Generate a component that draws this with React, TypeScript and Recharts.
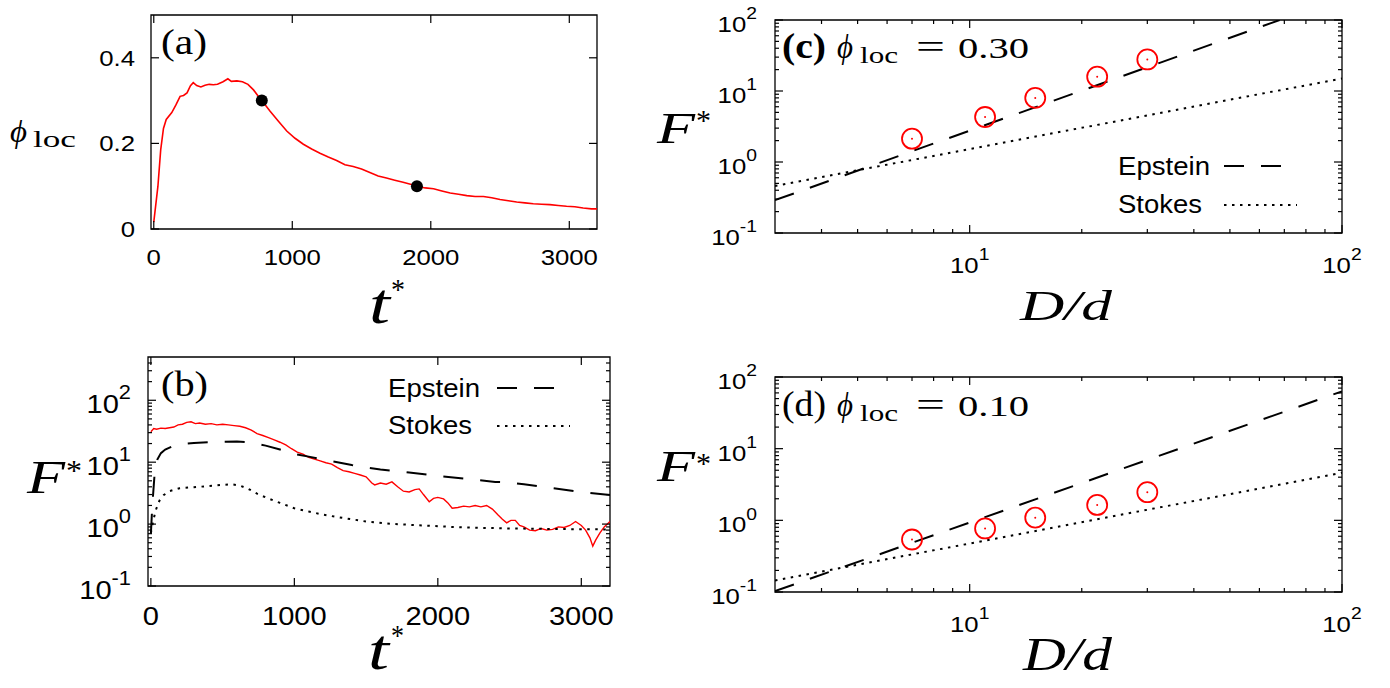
import React from 'react'
import { ComposedChart, Line, Scatter, XAxis, YAxis, ReferenceArea } from 'recharts'

const SANS = "'Liberation Sans', Arial, Helvetica, sans-serif"
const SERIF = "'Liberation Serif', 'DejaVu Serif', 'Times New Roman', serif"
const RED = '#ff0000'
const INK = '#000'

// (a) local packing fraction vs time
const tPhi = [0, 30, 50, 70, 90, 130, 160, 190, 215, 240, 265, 285, 310, 340, 370, 400, 430, 460, 500, 535, 560, 600, 640, 680, 720, 760, 780, 840, 900, 960, 1020, 1080, 1140, 1200, 1260, 1320, 1380, 1440, 1500, 1560, 1620, 1680, 1740, 1800, 1860, 1900, 1960, 2020, 2080, 2140, 2200, 2260, 2320, 2380, 2440, 2500, 2560, 2620, 2680, 2740, 2800, 2860, 2920, 2980, 3040, 3100, 3160, 3200]
const phiLoc = [0.016, 0.1, 0.185, 0.235, 0.256, 0.272, 0.29, 0.31, 0.312, 0.318, 0.335, 0.342, 0.335, 0.332, 0.336, 0.338, 0.337, 0.338, 0.344, 0.351, 0.345, 0.346, 0.344, 0.338, 0.325, 0.308, 0.3, 0.275, 0.252, 0.229, 0.212, 0.198, 0.187, 0.177, 0.168, 0.16, 0.15, 0.146, 0.14, 0.132, 0.124, 0.119, 0.114, 0.109, 0.104, 0.1, 0.096, 0.094, 0.089, 0.084, 0.081, 0.078, 0.076, 0.076, 0.073, 0.069, 0.066, 0.063, 0.061, 0.059, 0.058, 0.057, 0.055, 0.053, 0.052, 0.049, 0.047, 0.047]
const tMarked = [780, 1900]
const phiMarked = [0.3, 0.1]

// (b) drag force vs time
const tForce = [0, 20, 40, 70, 100, 130, 160, 190, 220, 250, 280, 310, 340, 380, 420, 460, 500, 540, 580, 620, 660, 700, 740, 780, 820, 860, 900, 940, 980, 1020, 1060, 1100, 1140, 1180, 1220, 1260, 1300, 1340, 1380, 1420, 1460, 1500, 1540, 1560, 1600, 1640, 1680, 1720, 1760, 1800, 1840, 1870, 1900, 1940, 1970, 2000, 2040, 2070, 2100, 2140, 2180, 2220, 2260, 2300, 2340, 2380, 2420, 2450, 2480, 2510, 2540, 2570, 2600, 2640, 2680, 2720, 2760, 2800, 2840, 2880, 2920, 2960, 3000, 3030, 3060, 3080, 3100, 3130, 3160, 3200]
const forceSim = [31, 35, 34, 35.5, 35, 36, 37, 40, 41, 44, 45, 42, 43, 41, 42, 40, 41, 40, 39, 38, 36, 33, 29, 27, 25, 23, 21, 19, 16.5, 14.5, 13.5, 12, 11.2, 10.5, 9.8, 9.3, 8.2, 7.3, 7.0, 6.6, 6.2, 5.8, 4.6, 4.3, 4.6, 4.4, 4.8, 4.0, 3.4, 3.3, 3.6, 3.7, 3.0, 2.3, 2.6, 2.7, 2.55, 2.2, 1.8, 1.85, 1.95, 1.9, 2.0, 1.9, 2.0, 1.75, 1.4, 1.2, 1.05, 1.15, 1.15, 0.95, 0.9, 0.8, 0.78, 0.85, 0.8, 0.82, 0.9, 0.88, 0.95, 1.1, 0.95, 0.8, 0.6, 0.44, 0.55, 0.72, 0.9, 1.1]
const tEpstein = [0, 10, 25, 45, 70, 100, 150, 200, 300, 400, 500, 600, 700, 800, 900, 1000, 1100, 1200, 1300, 1400, 1500, 1600, 1800, 2000, 2200, 2400, 2500, 2600, 2800, 3000, 3200]
const forceEpstein = [0.7, 2, 6, 11, 14, 16, 18, 19.5, 20.5, 21, 21.3, 21.5, 20.8, 18.5, 16, 13.6, 12.3, 11, 10, 9, 8.2, 7.6, 6.8, 6, 5.4, 4.8, 4.7, 4.4, 3.8, 3.3, 2.95]
const tStokes = [0, 15, 35, 60, 90, 130, 200, 300, 400, 500, 560, 620, 680, 740, 800, 900, 1000, 1100, 1200, 1300, 1500, 1700, 1900, 2100, 2300, 2500, 2700, 2900, 3200]
const forceStokes = [0.72, 1.1, 1.7, 2.4, 2.95, 3.4, 3.8, 3.95, 4.1, 4.3, 4.4, 4.2, 3.7, 3.1, 2.7, 2.2, 1.8, 1.6, 1.42, 1.3, 1.1, 1.0, 0.95, 0.9, 0.87, 0.85, 0.84, 0.83, 0.82]

// (c), (d) force vs size ratio
const sizeRatio = [7, 11, 15, 22, 30]
const force030 = [2.13, 4.3, 8.0, 15.9, 27.8]
const force010 = [0.54, 0.77, 1.09, 1.64, 2.47]
const epsteinRatio030 = [3, 68]
const epstein030 = [0.29, 100]
const modelRatio = [3, 100]
const stokes030 = [0.46, 15]
const epstein010 = [0.103, 63]
const stokes010 = [0.145, 4.6]

// ticks
const tTicks = [0, 1000, 2000, 3000]
const phiTicks = [0, 0.2, 0.4]
const MULT = [2, 3, 4, 5, 6, 7, 8, 9]
const decadeMajors = [0.1, 1, 10, 100]
const forceTicksB = [...decadeMajors, ...[0.1, 1, 10, 100].flatMap((d) => MULT.map((m) => d * m)).filter((v) => v < 500)]
const forceTicksCD = [...decadeMajors, ...[0.1, 1, 10].flatMap((d) => MULT.map((m) => d * m))]
const ratioMajors = [10, 100]
const ratioTicks = [...ratioMajors, 4, 5, 6, 7, 8, 9, 20, 30, 40, 50, 60, 70, 80, 90]

type Box = { x: number; y: number; w: number; h: number }
const BOX_A: Box = { x: 151, y: 15, w: 446, h: 214 }
const BOX_B: Box = { x: 148, y: 357, w: 462, h: 229 }
const BOX_C: Box = { x: 775, y: 20, w: 567, h: 213 }
const BOX_D: Box = { x: 775, y: 377, w: 567, h: 215 }
const PAD_L = 90
const PAD_T = 24
const PAD_R = 40
const PAD_B = 56

const pts = (xs: number[], ys: number[]) => xs.map((x, i) => ({ x, y: ys[i] }))

const plain = (v: number) => String(v)
const pow10 = (size: number) => (v: number) => (
  <>
    10
    <tspan dy={-0.55 * size} fontSize={0.75 * size}>
      {Math.round(Math.log10(v))}
    </tspan>
  </>
)

function xTick(box: Box, majors: number[], size: number, label: (v: number) => React.ReactNode, base: number) {
  const top = PAD_T
  const bottom = PAD_T + box.h
  return (p: any) => {
    const v = p.payload.value
    const cx = p.payload.coordinate ?? p.x
    const major = majors.includes(v)
    const len = major ? 8 : 4
    return (
      <g>
        <line x1={cx} x2={cx} y1={bottom} y2={bottom - len} stroke={INK} strokeWidth={1.2} />
        <line x1={cx} x2={cx} y1={top} y2={top + len} stroke={INK} strokeWidth={1.2} />
        {major && (
          <text transform={`translate(${cx} ${bottom + base}) scale(1.12 1)`} textAnchor="middle" fontFamily={SANS} fontSize={size} fill={INK}>
            {label(v)}
          </text>
        )}
      </g>
    )
  }
}

function yTick(box: Box, majors: number[], size: number, label: (v: number) => React.ReactNode, gap: number, base: number) {
  const left = PAD_L
  const right = PAD_L + box.w
  return (p: any) => {
    const v = p.payload.value
    const cy = p.payload.coordinate ?? p.y
    const major = majors.includes(v)
    const len = major ? 8 : 4
    return (
      <g>
        <line x1={left} x2={left + len} y1={cy} y2={cy} stroke={INK} strokeWidth={1.2} />
        <line x1={right} x2={right - len} y1={cy} y2={cy} stroke={INK} strokeWidth={1.2} />
        {major && (
          <text transform={`translate(${left - gap} ${cy + base}) scale(1.12 1)`} textAnchor="end" fontFamily={SANS} fontSize={size} fill={INK}>
            {label(v)}
          </text>
        )}
      </g>
    )
  }
}

function Panel({ box, children }: { box: Box; children: React.ReactNode }) {
  return (
    <div style={{ position: 'absolute', left: box.x - PAD_L, top: box.y - PAD_T }}>
      <ComposedChart
        width={box.w + PAD_L + PAD_R}
        height={box.h + PAD_T + PAD_B}
        margin={{ top: PAD_T, right: PAD_R, bottom: 0, left: 0 }}
      >
        {children}
      </ComposedChart>
    </div>
  )
}

const blackDot = (p: any) => <circle cx={p.cx} cy={p.cy} r={6} fill={INK} />
const redRing = (p: any) => (
  <g>
    <circle cx={p.cx} cy={p.cy} r={10} fill="none" stroke={RED} strokeWidth={1.8} />
    <circle cx={p.cx} cy={p.cy} r={1} fill={RED} />
  </g>
)

const DASH = '20 17'
const DOT = '2.5 5.5'

function RatioPanel({ box, force, epsX, eps, stokes }: { box: Box; force: number[]; epsX: number[]; eps: number[]; stokes: number[] }) {
  return (
    <Panel box={box}>
      <XAxis type="number" dataKey="x" scale="log" domain={[3, 100]} allowDataOverflow ticks={ratioTicks} interval={0}
        height={PAD_B} axisLine={false} tickLine={false} tick={xTick(box, ratioMajors, 23, pow10(23), 40)} />
      <YAxis type="number" dataKey="y" scale="log" domain={[0.1, 100]} allowDataOverflow ticks={forceTicksCD} interval={0}
        width={PAD_L} axisLine={false} tickLine={false} tick={yTick(box, decadeMajors, 23, pow10(23), 18, 12)} />
      <ReferenceArea x1={3} x2={100} y1={0.1} y2={100} fill="none" stroke={INK} strokeWidth={1.3} />
      <Line data={pts(epsX, eps)} dataKey="y" stroke={INK} strokeWidth={2} strokeDasharray={DASH} dot={false} isAnimationActive={false} />
      <Line data={pts(modelRatio, stokes)} dataKey="y" stroke={INK} strokeWidth={2} strokeDasharray={DOT} dot={false} isAnimationActive={false} />
      <Scatter data={pts(sizeRatio, force)} dataKey="y" shape={redRing} isAnimationActive={false} />
    </Panel>
  )
}

function Word({ x, y, w, size, italic, bold, family = SERIF, children }: any) {
  return (
    <text x={x} y={y} textLength={w} lengthAdjust="spacingAndGlyphs" fontSize={size} fontFamily={family}
      fontStyle={italic ? 'italic' : 'normal'} fontWeight={bold ? 'bold' : 'normal'} fill={INK}>
      {children}
    </text>
  )
}

function Key({ x, y, sx, gap }: { x: number; y: number; sx: number; gap: number }) {
  return (
    <g>
      <Word x={x} y={y} w={92} size={25} family={SANS}>Epstein</Word>
      <Word x={x} y={y + gap} w={84} size={25} family={SANS}>Stokes</Word>
      <line x1={sx} x2={sx + 60} y1={y - 9} y2={y - 9} stroke={INK} strokeWidth={2} strokeDasharray={DASH} />
      <line x1={sx} x2={sx + 73} y1={y + gap - 8} y2={y + gap - 8} stroke={INK} strokeWidth={2} strokeDasharray={DOT} />
    </g>
  )
}

function PhiTag({ x, y, tag, bold, value }: { x: number; y: number; tag: string; bold?: boolean; value: string }) {
  return (
    <g>
      <Word x={x} y={y} w={44} size={35} bold={bold}>{tag}</Word>
      <Word x={x + 55} y={y} w={16} size={33} italic>ϕ</Word>
      <Word x={x + 78} y={y + 5} w={38} size={23}>loc</Word>
      <Word x={x + 134} y={y} w={29} size={33}>=</Word>
      <Word x={x + 176} y={y} w={71} size={30}>{value}</Word>
    </g>
  )
}

export default function App() {
  return (
    <div style={{ position: 'absolute', left: 0, top: 0, width: 1390, height: 688, background: '#fff', overflow: 'hidden' }}>
      <Panel box={BOX_A}>
        <XAxis type="number" dataKey="x" domain={[-20, 3200]} allowDataOverflow ticks={tTicks} interval={0}
          height={PAD_B} axisLine={false} tickLine={false} tick={xTick(BOX_A, tTicks, 23, plain, 36)} />
        <YAxis type="number" dataKey="y" domain={[0, 0.5]} allowDataOverflow ticks={phiTicks} interval={0}
          width={PAD_L} axisLine={false} tickLine={false} tick={yTick(BOX_A, phiTicks, 23, plain, 16, 8)} />
        <ReferenceArea x1={-20} x2={3200} y1={0} y2={0.5} fill="none" stroke={INK} strokeWidth={1.3} />
        <Line data={pts(tPhi, phiLoc)} dataKey="y" stroke={RED} strokeWidth={1.6} dot={false} isAnimationActive={false} />
        <Scatter data={pts(tMarked, phiMarked)} dataKey="y" shape={blackDot} isAnimationActive={false} />
      </Panel>

      <Panel box={BOX_B}>
        <XAxis type="number" dataKey="x" domain={[-20, 3200]} allowDataOverflow ticks={tTicks} interval={0}
          height={PAD_B} axisLine={false} tickLine={false} tick={xTick(BOX_B, tTicks, 26, plain, 39)} />
        <YAxis type="number" dataKey="y" scale="log" domain={[0.1, 500]} allowDataOverflow ticks={forceTicksB} interval={0}
          width={PAD_L} axisLine={false} tickLine={false} tick={yTick(BOX_B, decadeMajors, 26, pow10(26), 17, 13)} />
        <ReferenceArea x1={-20} x2={3200} y1={0.1} y2={500} fill="none" stroke={INK} strokeWidth={1.3} />
        <Line data={pts(tForce, forceSim)} dataKey="y" stroke={RED} strokeWidth={1.4} dot={false} isAnimationActive={false} />
        <Line data={pts(tEpstein, forceEpstein)} dataKey="y" stroke={INK} strokeWidth={2} strokeDasharray={DASH} dot={false} isAnimationActive={false} />
        <Line data={pts(tStokes, forceStokes)} dataKey="y" stroke={INK} strokeWidth={2} strokeDasharray={DOT} dot={false} isAnimationActive={false} />
      </Panel>

      <RatioPanel box={BOX_C} force={force030} epsX={epsteinRatio030} eps={epstein030} stokes={stokes030} />
      <RatioPanel box={BOX_D} force={force010} epsX={modelRatio} eps={epstein010} stokes={stokes010} />

      <svg width={1390} height={688} style={{ position: 'absolute', left: 0, top: 0, pointerEvents: 'none' }}>
        {/* (a) */}
        <Word x={161} y={54} w={46} size={36}>(a)</Word>
        <Word x={10} y={142} w={17} size={32} italic>ϕ</Word>
        <Word x={33} y={147} w={43} size={23}>loc</Word>
        <Word x={369} y={323} w={21} size={56} italic>t</Word>
        <Word x={391} y={299} w={14} size={30}>*</Word>

        {/* (b) */}
        <Word x={161} y={396} w={47} size={36}>(b)</Word>
        <Word x={27} y={493} w={38} size={47} italic>F</Word>
        <Word x={66} y={480} w={16} size={30}>*</Word>
        <Word x={368} y={669} w={21} size={56} italic>t</Word>
        <Word x={391} y={645} w={13} size={30}>*</Word>
        <Key x={388} y={397} sx={497} gap={37} />

        {/* (c) */}
        <PhiTag x={782} y={58} tag="(c)" bold value="0.30" />
        <Word x={657} y={143} w={38} size={45} italic>F</Word>
        <Word x={696} y={130} w={15} size={30}>*</Word>
        <Word x={1020} y={320} w={92} size={42} italic>D/d</Word>
        <Key x={1118} y={175} sx={1224} gap={38} />

        {/* (d) */}
        <PhiTag x={782} y={416} tag="(d)" value="0.10" />
        <Word x={657} y={481} w={38} size={45} italic>F</Word>
        <Word x={696} y={473} w={15} size={30}>*</Word>
        <Word x={1023} y={670} w={89} size={46} italic>D/d</Word>
      </svg>
    </div>
  )
}
